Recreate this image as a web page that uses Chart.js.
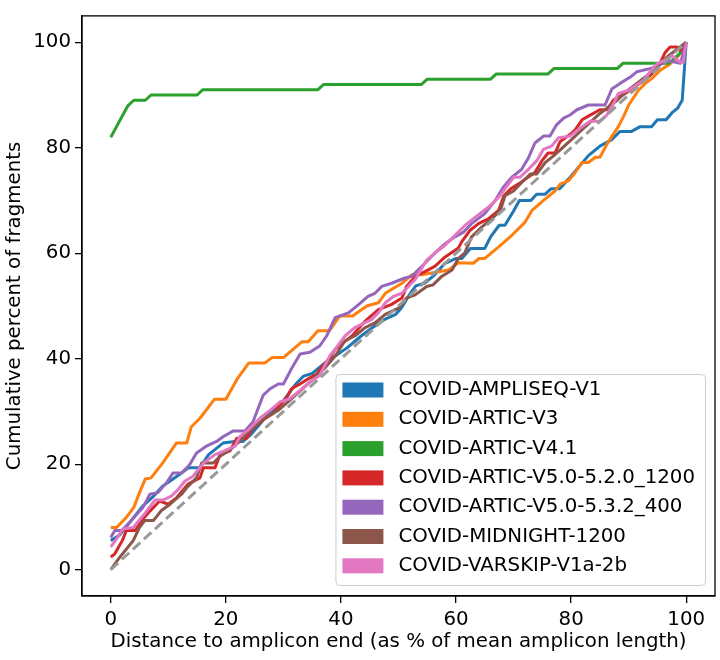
<!DOCTYPE html>
<html>
<head>
<meta charset="utf-8">
<script src="https://cdn.jsdelivr.net/npm/chart.js@4.4.1/dist/chart.umd.min.js"></script>
<style>
  body { margin: 0; background: #fff; }
</style>
</head>
<body>
<canvas id="chart" width="720" height="660"></canvas>
<script>
// Series names and colours (legend order)
const seriesNames = [
    'COVID-AMPLISEQ-V1',
    'COVID-ARTIC-V3',
    'COVID-ARTIC-V4.1',
    'COVID-ARTIC-V5.0-5.2.0_1200',
    'COVID-ARTIC-V5.0-5.3.2_400',
    'COVID-MIDNIGHT-1200',
    'COVID-VARSKIP-V1a-2b'
];
const seriesColors = ['#1f77b4', '#ff7f0e', '#2ca02c', '#d62728', '#9467bd', '#8c564b', '#e377c2'];

// Tick labels
const xTicks = [0, 20, 40, 60, 80, 100];
const yTicks = [0, 20, 40, 60, 80, 100];

// AMPLISEQ-V1
const amplX = [0, 1.5, 4, 5.5, 7.5, 9, 11.5, 13.5, 15.5, 17, 19.5, 21.5, 23, 24.5, 27, 30, 32, 33.5, 35, 37, 39, 41, 43.5, 45.5, 47.5, 49.5, 50.5, 52, 53, 54.5, 56, 58, 60, 61, 62.5, 65, 66, 67.5, 68.5, 70, 71, 73, 74, 75.5, 76.5, 78, 79.5, 81, 83, 85, 87, 88.5, 90.5, 92, 94, 95, 96.5, 97.5, 98.5, 99.3, 100];
const amplY = [5.5, 6.5, 9.9, 12, 14, 15.8, 17.7, 19.3, 19.3, 21.8, 24, 24.3, 24.3, 25.8, 29, 32, 35, 36.7, 37.2, 39, 40.5, 42, 44.3, 45.9, 47.4, 48.4, 49.6, 52.3, 53.8, 54.3, 55.6, 58, 59, 59, 60.9, 60.9, 63.1, 65.3, 65.3, 68, 70, 70, 71.2, 71.2, 72.2, 72.2, 74, 75.9, 78.5, 80.3, 81.5, 83.1, 83.1, 84, 84, 85.3, 85.3, 86.6, 87.5, 89, 100];

// ARTIC-V3
const v3X = [0, 1, 2.7, 4, 5, 6, 7, 9, 11.4, 13.2, 14, 15.5, 18, 20, 22, 24, 26.8, 28, 30, 33.2, 34.3, 36, 38, 39.8, 42, 44.5, 46.5, 47.7, 50.6, 52.3, 54, 58.7, 60.4, 63, 64, 65, 67.4, 69.7, 72, 73.2, 75.2, 77.2, 78.1, 79.5, 80.7, 81.9, 83, 84.2, 85, 86.2, 87.1, 88.2, 89.1, 90, 90.8, 91.7, 92.9, 94, 95.5, 97.2, 98.7, 100];
const v3Y = [8, 8, 9.9, 11.8, 14.6, 17.2, 17.4, 20.2, 24, 24, 27.1, 28.7, 32.3, 32.3, 36.2, 39.2, 39.2, 40.2, 40.2, 43.2, 43.2, 45.3, 45.3, 48.1, 48.1, 50, 50.6, 52.4, 54.3, 55.9, 55.9, 56.8, 58.2, 58.1, 59, 59, 61.2, 63.4, 65.9, 68.1, 70, 71.8, 73.1, 73.7, 75.3, 77.2, 77.2, 78.2, 78.2, 80.6, 82.2, 84, 85.9, 88.1, 89.4, 90.9, 92.2, 93.1, 94.7, 95.9, 97.5, 100];

// ARTIC-V4.1
const v41X = [0, 1, 2, 3, 4, 6, 7, 15, 16, 36, 37, 54, 55, 66, 67, 76, 77, 88, 89, 97, 98, 99, 100];
const v41Y = [82, 84, 86, 88, 89, 89, 90, 90, 91, 91, 92, 92, 93, 93, 94, 94, 95, 95, 96, 96, 97, 98, 100];

// ARTIC-V5.0-5.2.0_1200
const v52X = [0, 0.7, 2, 2.7, 4.2, 5.6, 6.8, 8.5, 10, 11.4, 13.4, 15.5, 16.1, 18.1, 19, 20.7, 21.9, 23.6, 24.7, 26.5, 28.2, 30.6, 31.4, 32.9, 34.3, 35.8, 36.9, 38.1, 39, 41.9, 44.2, 46.5, 48.8, 50.6, 51.4, 52.9, 54.6, 56.3, 58.1, 60.4, 61, 62.4, 63.9, 65.6, 67.4, 68.3, 69.5, 70.8, 72, 73.7, 74.9, 76, 77.2, 78.1, 79.8, 80.7, 81.9, 83, 85, 86.2, 87.4, 89.4, 91, 93, 95, 96.3, 97.2, 98.4, 99, 100];
const v52Y = [2.4, 3, 5.5, 7.4, 7.4, 9.6, 11.1, 13, 12.4, 13.6, 16.2, 17.4, 19.3, 19.3, 21.8, 22.5, 24.9, 24.9, 26.8, 28.4, 29.6, 32.7, 34.3, 35.2, 36.2, 37.1, 38.7, 40.2, 41.8, 44.3, 47.1, 49.3, 50.3, 51.5, 53.7, 55.6, 56.5, 57.5, 59.3, 61, 62.2, 64.3, 65.6, 66.5, 68.1, 70.9, 72.2, 73.1, 74, 75.3, 77.5, 79, 79, 81.2, 82.5, 83.4, 85.3, 86, 87.2, 87.2, 89.1, 90.3, 91.5, 93, 95, 98, 99.1, 99.1, 98.4, 100];

// ARTIC-V5.0-5.3.2_400
const v53X = [0, 0.7, 1.9, 3.3, 4.5, 5.6, 6.8, 8.2, 9.7, 10.8, 12.3, 13.7, 14.9, 16.6, 18.4, 19.5, 21.3, 23.3, 24.7, 26.5, 27.7, 29.1, 30, 31.4, 32.9, 34.6, 36.3, 37.5, 39, 41.3, 43, 44.7, 45.9, 47.1, 48.8, 51.1, 52.3, 54.5, 56.3, 58.1, 59.8, 61.3, 62.7, 65, 66.8, 68.2, 69.7, 71.4, 72.6, 73.7, 75.2, 76.3, 77.5, 78.7, 79.8, 81, 83, 85.9, 87.1, 88.5, 90.3, 91.4, 93.7, 95, 97, 99, 100];
const v53Y = [6.1, 7.4, 7.4, 9, 10.5, 11.8, 14.3, 14.6, 16.5, 18.3, 18.3, 19.9, 22.1, 23.4, 24.3, 25.2, 26.3, 26.3, 28, 33.1, 34.3, 35.2, 35.2, 38.1, 40.9, 41.2, 42.4, 44.3, 47.8, 48.7, 50.2, 51.8, 52.4, 53.7, 54.3, 55.3, 55.6, 58, 60, 61.8, 63.1, 64, 65.6, 67.5, 70, 72.5, 74.4, 75.9, 78.1, 80.9, 82.2, 82.2, 84.4, 85.6, 86.2, 87.2, 88.1, 88.1, 91.2, 92.2, 93.4, 94.4, 95, 95.5, 96.5, 96, 100];

// MIDNIGHT-1200
const midX = [0, 1.6, 3.9, 5, 5.9, 7.4, 8.8, 10.3, 12.3, 13.4, 14.9, 15.8, 17.8, 19, 20.7, 22.4, 23.6, 25.3, 27.1, 29.1, 31, 33, 35, 37, 39, 40.7, 42.4, 44.2, 45.9, 47.7, 50, 51.4, 52.9, 54.9, 56, 57.5, 59.3, 60.4, 61.5, 62.7, 64.5, 66.2, 67.7, 68.5, 70, 71.4, 72.9, 74, 75.5, 77, 80, 82, 85, 88, 90, 93, 95, 97, 100];
const midY = [0, 2.4, 5.5, 8, 9.3, 9.3, 11.2, 12.4, 14.3, 15.8, 17.4, 20.2, 20.2, 21.5, 22.7, 24.3, 25.8, 27.4, 29, 30.2, 32, 34, 36, 38, 40.5, 43.4, 44.3, 45.9, 46.8, 48.4, 49.6, 51.5, 52.1, 53.7, 54, 55.6, 56.8, 59, 60, 63.1, 65, 66.5, 68.1, 70.9, 71.8, 73.4, 75, 75, 77.2, 78.5, 81.5, 83.5, 86.5, 89, 91, 93.5, 95.5, 97.5, 100];

// VARSKIP-V1a-2b
const varX = [0, 1, 2.1, 3.9, 5.6, 7.7, 9.1, 10.6, 11.7, 12.9, 14.3, 16.1, 18.1, 19.5, 21.6, 22.4, 24.2, 25.9, 27.7, 29.4, 31.1, 32.9, 34.6, 36.3, 38.1, 39, 40.7, 42.4, 45.3, 46.5, 47.7, 49.1, 50.6, 52.9, 54.9, 56.3, 58.1, 59.8, 61.6, 63.3, 65.6, 67.4, 68.5, 70, 71.1, 72.3, 74, 75.2, 76.6, 77.8, 79.8, 81.9, 83.3, 85, 86.2, 87.4, 88.2, 90, 92.6, 93.7, 94.9, 96.3, 97.5, 99, 99.5, 100];
const varY = [4.3, 5.8, 7.7, 8, 10.2, 13.2, 13.2, 14, 15.2, 16.8, 17.7, 20.2, 21.8, 22.4, 23.4, 25.2, 26.8, 28.7, 30.2, 31.8, 32.4, 34, 35.6, 36.8, 40.6, 41.8, 44.3, 45.9, 47.4, 48.7, 50.6, 51.8, 52.4, 55, 58.7, 60, 61.5, 63.4, 65.3, 66.8, 68.7, 70.6, 72.2, 74.4, 74.4, 75.6, 77.5, 79.7, 80.3, 81.9, 82.2, 84, 85, 85, 86.2, 88.4, 90.3, 90.9, 92.8, 94.4, 95.9, 96.6, 97.5, 96.2, 96.2, 100];

// Uniform reference line
const diagX = [0, 100];
const diagY = [0, 100];

const seriesX = [amplX, v3X, v41X, v52X, v53X, midX, varX];
const seriesY = [amplY, v3Y, v41Y, v52Y, v53Y, midY, varY];

function toPoints(xs, ys) {
    return xs.map((x, i) => ({ x: x, y: ys[i] }));
}

const FONT = "'DejaVu Sans', 'Liberation Sans', sans-serif";
const FONT_SIZE = 19.8;

// Datasets: later series drawn on top, dashed line on top of all
const datasets = seriesNames.map((name, i) => ({
    label: name,
    data: toPoints(seriesX[i], seriesY[i]),
    borderColor: seriesColors[i],
    backgroundColor: seriesColors[i],
    borderWidth: 3,
    pointRadius: 0,
    tension: 0,
    fill: false,
    borderJoinStyle: 'round',
    order: seriesNames.length - i
}));
datasets.push({
    label: 'diagonal',
    data: toPoints(diagX, diagY),
    borderColor: '#999999',
    borderWidth: 3,
    borderDash: [10, 5],
    pointRadius: 0,
    fill: false,
    order: 0
});

// Frame around the plot area and legend inside it
const framePlugin = {
    id: 'framePlugin',
    afterDraw(chart) {
        const { ctx, chartArea } = chart;
        ctx.save();

        // Full box
        ctx.strokeStyle = '#000';
        ctx.lineWidth = 1.3;
        ctx.strokeRect(chartArea.left, chartArea.top, chartArea.right - chartArea.left, chartArea.bottom - chartArea.top);

        // Legend
        ctx.font = FONT_SIZE + 'px ' + FONT;
        const textW = Math.max(...seriesNames.map(n => ctx.measureText(n).width));
        const rowH = 29.3, padX = 7, patchW = 41, patchH = 15, gap = 15;
        const w = padX + patchW + gap + textW + 10;
        const h = 211;
        const x0 = chartArea.right - 10 - w;
        const y0 = chartArea.bottom - 11 - h;

        ctx.beginPath();
        ctx.roundRect(x0 + 0.5, y0 + 0.5, w, h, 4);
        ctx.fillStyle = 'rgba(255,255,255,0.8)';
        ctx.fill();
        ctx.strokeStyle = '#cccccc';
        ctx.lineWidth = 1;
        ctx.stroke();

        ctx.textBaseline = 'middle';
        ctx.textAlign = 'left';
        seriesNames.forEach((name, i) => {
            const cy = y0 + 16 + i * rowH;
            ctx.fillStyle = seriesColors[i];
            ctx.fillRect(x0 + padX, cy - patchH / 2, patchW, patchH);
            ctx.fillStyle = '#000';
            ctx.fillText(name, x0 + padX + patchW + gap, cy);
        });

        ctx.restore();
    }
};

Chart.defaults.font.family = FONT;
Chart.defaults.font.size = FONT_SIZE;
Chart.defaults.color = '#000';

const ctx = document.getElementById('chart').getContext('2d');
new Chart(ctx, {
    type: 'line',
    data: { datasets: datasets },
    plugins: [framePlugin],
    options: {
        responsive: false,
        animation: false,
        devicePixelRatio: 1,
        layout: { padding: { left: 0, top: 10, right: 5, bottom: 0 } },
        plugins: {
            legend: { display: false },
            tooltip: { enabled: false }
        },
        scales: {
            x: {
                type: 'linear',
                min: -5,
                max: 105,
                afterBuildTicks: scale => { scale.ticks = xTicks.map(v => ({ value: v })); },
                afterFit: scale => { scale.height = 64; },
                ticks: { padding: 5, color: '#000', maxRotation: 0 },
                grid: { drawOnChartArea: false, drawTicks: true, tickLength: 7, color: '#000', lineWidth: 1.3 },
                border: { display: true, color: '#000', width: 1.3 },
                title: {
                    display: true,
                    text: 'Distance to amplicon end (as % of mean amplicon length)',
                    color: '#000',
                    padding: { top: 0, bottom: 6 }
                }
            },
            y: {
                type: 'linear',
                min: -5,
                max: 105,
                afterBuildTicks: scale => { scale.ticks = yTicks.map(v => ({ value: v })); },
                afterFit: scale => { scale.width = 82; },
                ticks: { padding: 4, color: '#000' },
                grid: { drawOnChartArea: false, drawTicks: true, tickLength: 7, color: '#000', lineWidth: 1.3 },
                border: { display: true, color: '#000', width: 1.3 },
                title: {
                    display: true,
                    text: 'Cumulative percent of fragments',
                    color: '#000',
                    padding: { top: 3, bottom: 0 }
                }
            }
        }
    }
});
</script>
</body>
</html>
